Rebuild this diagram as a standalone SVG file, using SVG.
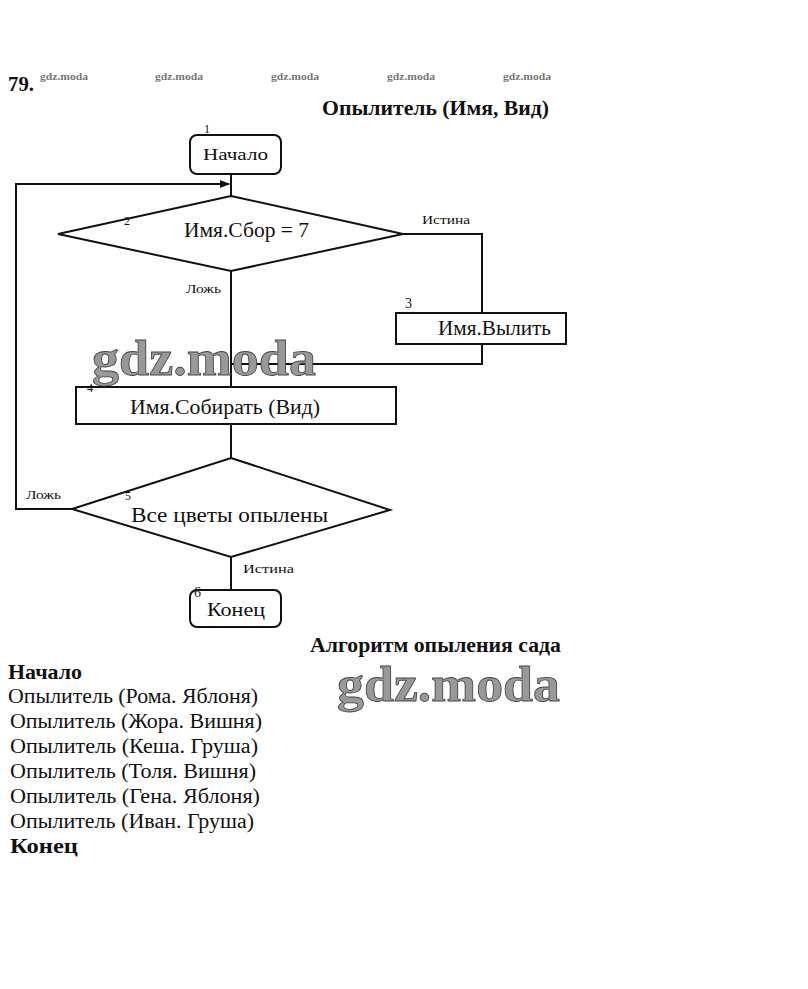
<svg xmlns="http://www.w3.org/2000/svg" width="808" height="989" viewBox="0 0 808 989">
<style>
text{font-family:"Liberation Serif","Times New Roman",serif;fill:#111}
.b{font-weight:bold}
.sm{font-size:12px}
.lbl{font-size:20px}
.wm{font-size:10px;font-weight:bold;fill:#777}
.big{font-size:50px;font-weight:bold;fill:#999;stroke:#444;stroke-width:0.8}
.lst{font-size:20px}
.shape{fill:#fff;stroke:#111;stroke-width:2}
.ln{fill:none;stroke:#111;stroke-width:2}
</style>
<defs>
<marker id="ah" markerWidth="10" markerHeight="8" refX="9" refY="4" orient="auto" markerUnits="userSpaceOnUse">
<path d="M0,0 L10,4 L0,8 z" fill="#111"/>
</marker>
</defs>
<rect width="808" height="989" fill="#fff"/>
<text x="8" y="91" class="b" font-size="22" textLength="26" lengthAdjust="spacingAndGlyphs">79.</text>
<text x="40" y="80" class="wm" textLength="48" lengthAdjust="spacingAndGlyphs">gdz.moda</text>
<text x="155" y="80" class="wm" textLength="48" lengthAdjust="spacingAndGlyphs">gdz.moda</text>
<text x="271" y="80" class="wm" textLength="48" lengthAdjust="spacingAndGlyphs">gdz.moda</text>
<text x="387" y="80" class="wm" textLength="48" lengthAdjust="spacingAndGlyphs">gdz.moda</text>
<text x="503" y="80" class="wm" textLength="48" lengthAdjust="spacingAndGlyphs">gdz.moda</text>
<text x="322" y="115" class="b" font-size="20" textLength="227" lengthAdjust="spacingAndGlyphs">Опылитель (Имя, Вид)</text>

<g id="connectors">
<path class="ln" d="M231,174 V196"/>
<path class="ln" d="M16,510 V184 H229" marker-end="url(#ah)"/>
<path class="ln" d="M403,234 H482 V313"/>
<path class="ln" d="M482,344 V364 H231"/>
<path class="ln" d="M231,271 V387"/>
<path class="ln" d="M231,424 V458"/>
<path class="ln" d="M72,509 H16"/>
<path class="ln" d="M231,557 V590"/>
<text x="422" y="224" class="sm" textLength="48" lengthAdjust="spacingAndGlyphs">Истина</text>
<text x="186" y="293" class="sm" textLength="35" lengthAdjust="spacingAndGlyphs">Ложь</text>
<text x="26" y="499" class="sm" textLength="35" lengthAdjust="spacingAndGlyphs">Ложь</text>
<text x="243" y="573" class="sm" textLength="51" lengthAdjust="spacingAndGlyphs">Истина</text>
</g>

<g id="n1">
<rect class="shape" x="190" y="135" width="91" height="39" rx="7"/>
<text x="203" y="160" font-size="17" textLength="65" lengthAdjust="spacingAndGlyphs">Начало</text>
<text x="204" y="133" class="sm">1</text>
</g>
<g id="n2">
<polygon class="shape" points="231,196 403,234 231,271 58,234"/>
<text x="184" y="237" font-size="20" textLength="125" lengthAdjust="spacingAndGlyphs">Имя.Сбор = 7</text>
<text x="124" y="225" class="sm">2</text>
</g>
<g id="n3">
<rect class="shape" x="396" y="313" width="170" height="31"/>
<text x="438" y="335" class="lbl" textLength="113" lengthAdjust="spacingAndGlyphs">Имя.Вылить</text>
<text x="405" y="308" font-size="14">3</text>
</g>
<g id="n4">
<rect class="shape" x="76" y="387" width="320" height="37"/>
<text x="130" y="414" class="lbl" textLength="190" lengthAdjust="spacingAndGlyphs">Имя.Собирать (Вид)</text>
<text x="87" y="392" class="sm">4</text>
</g>
<g id="n5">
<polygon class="shape" points="231,458 390,510 231,557 72,509"/>
<text x="131" y="522" font-size="21" textLength="197" lengthAdjust="spacingAndGlyphs">Все цветы опылены</text>
<text x="125" y="500" class="sm">5</text>
</g>
<g id="n6">
<rect class="shape" x="190" y="590" width="91" height="37" rx="7"/>
<text x="207" y="616" font-size="19" textLength="58" lengthAdjust="spacingAndGlyphs">Конец</text>
<text x="194" y="597" font-size="14">6</text>
</g>

<text x="92" y="375" class="big" textLength="224" lengthAdjust="spacingAndGlyphs">gdz.moda</text>
<text x="310" y="652" class="b" font-size="20" textLength="251" lengthAdjust="spacingAndGlyphs">Алгоритм опыления сада</text>
<text x="337" y="701" class="big" textLength="223" lengthAdjust="spacingAndGlyphs">gdz.moda</text>

<text x="8" y="679" class="lst b" textLength="74" lengthAdjust="spacingAndGlyphs">Начало</text>
<text x="8" y="703" class="lst" textLength="250" lengthAdjust="spacingAndGlyphs">Опылитель (Рома. Яблоня)</text>
<text x="10" y="728" class="lst" textLength="252" lengthAdjust="spacingAndGlyphs">Опылитель (Жора. Вишня)</text>
<text x="10" y="753" class="lst" textLength="248" lengthAdjust="spacingAndGlyphs">Опылитель (Кеша. Груша)</text>
<text x="10" y="778" class="lst" textLength="246" lengthAdjust="spacingAndGlyphs">Опылитель (Толя. Вишня)</text>
<text x="10" y="803" class="lst" textLength="250" lengthAdjust="spacingAndGlyphs">Опылитель (Гена. Яблоня)</text>
<text x="10" y="828" class="lst" textLength="244" lengthAdjust="spacingAndGlyphs">Опылитель (Иван. Груша)</text>
<text x="10" y="853" class="lst b" textLength="68" lengthAdjust="spacingAndGlyphs">Конец</text>
</svg>
